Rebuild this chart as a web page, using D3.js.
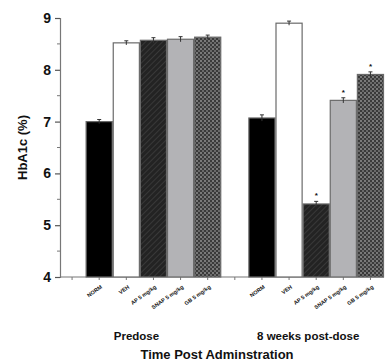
<!DOCTYPE html>
<html lang="en">
<head>
    <meta charset="UTF-8" />
    <title>HbA1c</title>
    <script src="https://d3js.org/d3.v7.min.js"></script>
    <style>
        body { margin: 0; background: #fff; font-family: "Liberation Sans", Arial, sans-serif; }
        svg { display: block; }
        text { font-weight: bold; fill: #111; }
    </style>
</head>
<body>
    <svg id="chart" width="385" height="363"></svg>
    <script>
        // data
        const groups = ["Predose", "8 weeks post-dose"];
        const treatments = ["NORM", "VEH", "AP 5 mg/kg", "SNAP 5 mg/kg", "GB 5 mg/kg"];
        const predose = [7.00, 8.52, 8.57, 8.59, 8.63];
        const postdose = [7.07, 8.90, 5.41, 7.41, 7.91];
        const predoseErr = [0.04, 0.04, 0.05, 0.05, 0.04];
        const postdoseErr = [0.06, 0.04, 0.05, 0.05, 0.05];
        const postdoseSig = [false, false, true, true, true];
        const yTicks = [4, 5, 6, 7, 8, 9];

        const svg = d3.select("#chart");

        // slots: blank, 5 bars, blank, 5 bars
        const slots = [];
        groups.forEach((g, gi) => {
            slots.push({ key: g + "-gap", blank: true });
            treatments.forEach((t, ti) => {
                slots.push({
                    key: g + "-" + t, group: g, name: t, ti: ti,
                    value: gi === 0 ? predose[ti] : postdose[ti],
                    err: gi === 0 ? predoseErr[ti] : postdoseErr[ti],
                    sig: gi === 0 ? false : postdoseSig[ti]
                });
            });
        });

        const x = d3.scaleBand()
            .domain(slots.map(d => d.key))
            .range([58.5, 384])
            .padding(0);

        const y = d3.scaleLinear().domain([4, 9]).range([277, 18]);

        // patterns
        const defs = svg.append("defs");
        const hatch = defs.append("pattern").attr("id", "hatch")
            .attr("patternUnits", "userSpaceOnUse").attr("width", 4).attr("height", 4)
            .attr("patternTransform", "rotate(45)");
        hatch.append("rect").attr("width", 4).attr("height", 4).attr("fill", "#232323");
        hatch.append("line").attr("x1", 0).attr("y1", 0).attr("x2", 0).attr("y2", 4)
            .attr("stroke", "#3e3e3e").attr("stroke-width", 1.5);

        const checker = defs.append("pattern").attr("id", "checker")
            .attr("patternUnits", "userSpaceOnUse").attr("width", 4).attr("height", 4);
        checker.append("rect").attr("width", 4).attr("height", 4).attr("fill", "#3a3a3a");
        checker.append("rect").attr("x", 0).attr("y", 0).attr("width", 2).attr("height", 2).attr("fill", "#7a7a7a");
        checker.append("rect").attr("x", 2).attr("y", 2).attr("width", 2).attr("height", 2).attr("fill", "#6a6a6a");

        const fills = ["#000", "#fff", "url(#hatch)", "#b3b3b6", "url(#checker)"];

        // y axis
        const yAxis = d3.axisLeft(y)
            .tickValues(yTicks)
            .tickFormat(d3.format("d"))
            .tickSize(5)
            .tickPadding(4);
        const yg = svg.append("g").attr("transform", "translate(60,0)").call(yAxis);
        yg.select(".domain").attr("stroke", "#777").attr("stroke-width", 1.2);
        yg.selectAll(".tick line").attr("stroke", "#555").attr("stroke-width", 1.2);
        yg.selectAll(".tick text").attr("font-size", 14).attr("font-weight", "bold")
            .attr("font-family", "'Liberation Sans', Arial, sans-serif").attr("fill", "#111");
        // minor ticks
        yg.selectAll(".minor").data(d3.range(4.5, 9, 1)).enter().append("line")
            .attr("class", "minor")
            .attr("x1", -3).attr("x2", 0)
            .attr("y1", d => y(d)).attr("y2", d => y(d))
            .attr("stroke", "#777");

        // x axis
        const xAxis = d3.axisBottom(x).tickSize(3).tickFormat(k => {
            const s = slots.find(d => d.key === k);
            return s.blank ? "" : s.name;
        });
        const xg = svg.append("g").attr("transform", `translate(0,${y(4)})`).call(xAxis);
        xg.select(".domain").attr("stroke", "#777").attr("stroke-width", 1.2)
            .attr("d", `M60,0H384`);
        xg.selectAll(".tick line").attr("stroke", "#777");
        xg.selectAll(".tick text")
            .attr("font-size", 5.5)
            .attr("font-weight", "bold")
            .attr("fill", "#222")
            .attr("text-anchor", "end")
            .attr("dy", 0)
            .attr("transform", "translate(0,6) rotate(-35)");

        // bars
        const bars = slots.filter(d => !d.blank);
        svg.append("g").selectAll("rect").data(bars).enter().append("rect")
            .attr("x", d => x(d.key) + 0.5)
            .attr("width", x.bandwidth() - 1)
            .attr("y", d => y(d.value))
            .attr("height", d => y(4) - y(d.value))
            .attr("fill", d => fills[d.ti])
            .attr("stroke", "#6a6a6a")
            .attr("stroke-width", 1.2);

        // error bars
        const eb = svg.append("g").attr("stroke", "#333").attr("stroke-width", 1);
        bars.forEach(d => {
            const cx = x(d.key) + x.bandwidth() / 2;
            eb.append("line").attr("x1", cx).attr("x2", cx)
                .attr("y1", y(d.value + d.err)).attr("y2", y(d.value - d.err));
            eb.append("line").attr("x1", cx - 2).attr("x2", cx + 2)
                .attr("y1", y(d.value + d.err)).attr("y2", y(d.value + d.err));
        });

        // significance markers
        svg.append("g").selectAll("text").data(bars.filter(d => d.sig)).enter().append("text")
            .attr("x", d => x(d.key) + x.bandwidth() / 2)
            .attr("y", d => y(d.value + d.err) - 3)
            .attr("text-anchor", "middle")
            .attr("font-size", 8)
            .text("*");

        // group labels
        groups.forEach(g => {
            const gs = bars.filter(d => d.group === g);
            const cx = (x(gs[0].key) + x(gs[gs.length - 1].key) + x.bandwidth()) / 2;
            svg.append("text")
                .attr("x", cx - (g === "Predose" ? 17 : 8))
                .attr("y", 340)
                .attr("text-anchor", "middle")
                .attr("font-size", 11.5)
                .text(g);
        });

        svg.append("text")
            .attr("x", 217).attr("y", 359)
            .attr("text-anchor", "middle")
            .attr("font-size", 13)
            .text("Time Post Adminstration");

        svg.append("text")
            .attr("transform", `translate(27,${y(6.5)}) rotate(-90)`)
            .attr("text-anchor", "middle")
            .attr("font-size", 13)
            .text("HbA1c (%)");
    </script>
</body>
</html>
